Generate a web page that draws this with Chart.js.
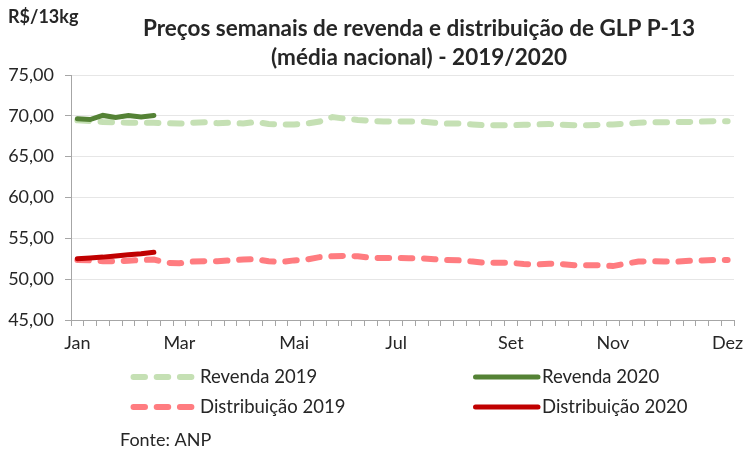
<!DOCTYPE html>
<html lang="pt-BR">
<head>
<meta charset="utf-8">
<title>Preços semanais de GLP P-13</title>
<script src="https://cdn.jsdelivr.net/npm/chart.js@4.4.1/dist/chart.umd.min.js"></script>
<style>
    html, body { margin: 0; padding: 0; background: #ffffff; }
    #wrap { width: 755px; height: 450px; }
</style>
</head>
<body>
<div id="wrap"><canvas id="glpChart" width="755" height="450"></canvas></div>
<script>
// Weekly GLP P-13 prices (R$/13kg), national average

const monthNames = ['Jan', 'Mar', 'Mai', 'Jul', 'Set', 'Nov', 'Dez'];
const monthWeeks = [0, 8, 17, 25, 34, 42, 51];
const weekCount = 52;

const revenda2019 = [
    69.45, 69.35, 69.25, 69.20, 69.15, 69.15, 69.15, 69.10, 69.05, 69.15,
    69.20, 69.10, 69.15, 69.05, 69.25, 69.00, 68.95, 68.95, 69.05, 69.30,
    69.85, 69.65, 69.50, 69.40, 69.30, 69.30, 69.30, 69.30, 69.15, 69.05,
    69.05, 68.95, 68.85, 68.85, 68.85, 68.90, 68.95, 69.00, 68.90, 68.85,
    68.85, 68.90, 68.95, 69.05, 69.15, 69.20, 69.20, 69.25, 69.25, 69.30,
    69.35, 69.35
];
const revenda2020 = [69.65, 69.55, 70.05, 69.80, 70.05, 69.85, 70.05];

const distribuicao2019 = [
    52.35, 52.30, 52.20, 52.20, 52.25, 52.35, 52.40, 52.00, 51.95, 52.15,
    52.20, 52.20, 52.30, 52.40, 52.45, 52.20, 52.10, 52.30, 52.40, 52.70,
    52.80, 52.85, 52.80, 52.60, 52.60, 52.60, 52.55, 52.55, 52.45, 52.35,
    52.30, 52.15, 52.00, 52.00, 52.00, 51.85, 51.80, 51.90, 51.85, 51.70,
    51.70, 51.70, 51.60, 51.90, 52.15, 52.20, 52.15, 52.15, 52.25, 52.30,
    52.35, 52.35
];
const distribuicao2020 = [52.50, 52.60, 52.70, 52.85, 53.00, 53.10, 53.30];

(function() {
    'use strict';

    const FONT = 'Lato, "Open Sans", sans-serif';
    const TEXT = '#262626';
    const AXIS = '#a6a6a6';
    const DASH = [11.5, 11.7];

    // category labels: month name on some weeks, blank on the rest
    const weekLabels = [];
    for (let i = 0; i < weekCount; i++) {
        const k = monthWeeks.indexOf(i);
        weekLabels.push(k >= 0 ? monthNames[k] : '');
    }

    // title, unit, legend and source drawn on the canvas
    const decorPlugin = {
        id: 'decor',
        afterDraw(chart) {
            const ctx = chart.ctx;
            ctx.save();
            ctx.fillStyle = TEXT;
            ctx.textBaseline = 'middle';

            ctx.textAlign = 'left';
            ctx.font = 'bold 18px ' + FONT;
            ctx.fillText('R$/13kg', 8, 17);

            ctx.textAlign = 'center';
            ctx.font = 'bold 22.5px ' + FONT;
            ctx.fillText('Preços semanais de revenda e distribuição de GLP P-13', 419, 29);
            ctx.fillText('(média nacional) - 2019/2020', 419, 58);

            // legend, two columns
            const cols = [131, 473];
            const rows = [377, 407];
            chart.data.datasets.forEach(function(ds, i) {
                const x = cols[i % 2];
                const y = rows[Math.floor(i / 2)];
                ctx.beginPath();
                ctx.strokeStyle = ds.borderColor;
                ctx.lineWidth = ds.borderWidth;
                ctx.lineCap = 'round';
                ctx.setLineDash(ds.borderDash || []);
                ctx.moveTo(x + 2.5, y);
                ctx.lineTo(x + 65, y);
                ctx.stroke();
                ctx.setLineDash([]);
                ctx.textAlign = 'left';
                ctx.font = '18.5px ' + FONT;
                ctx.fillText(ds.label, x + 69, y);
            });

            ctx.font = '18px ' + FONT;
            ctx.fillText('Fonte: ANP', 120, 440);
            ctx.restore();
        }
    };

    const ctx = document.getElementById('glpChart');

    new Chart(ctx, {
        type: 'line',
        data: {
            labels: weekLabels,
            datasets: [
                {
                    label: 'Revenda 2019',
                    data: revenda2019,
                    borderColor: '#c5e0b4',
                    borderWidth: 6,
                    borderDash: DASH,
                    borderCapStyle: 'round',
                    order: 2
                },
                {
                    label: 'Revenda 2020',
                    data: revenda2020,
                    borderColor: '#548235',
                    borderWidth: 5,
                    borderCapStyle: 'round',
                    order: 0
                },
                {
                    label: 'Distribuição 2019',
                    data: distribuicao2019,
                    borderColor: '#ff7c80',
                    borderWidth: 6,
                    borderDash: DASH,
                    borderCapStyle: 'round',
                    order: 2
                },
                {
                    label: 'Distribuição 2020',
                    data: distribuicao2020,
                    borderColor: '#c00000',
                    borderWidth: 5,
                    borderCapStyle: 'round',
                    order: 0
                }
            ]
        },
        options: {
            responsive: false,
            animation: false,
            elements: {
                point: { radius: 0, hoverRadius: 0 },
                line: { tension: 0, fill: false }
            },
            layout: {
                padding: { top: 75, right: 21, bottom: 0, left: 0 }
            },
            plugins: {
                legend: { display: false },
                title: { display: false },
                tooltip: { enabled: false }
            },
            scales: {
                x: {
                    offset: true,
                    grid: {
                        offset: true,
                        drawOnChartArea: false,
                        drawTicks: true,
                        tickLength: 6,
                        color: AXIS
                    },
                    border: { color: AXIS, width: 1 },
                    ticks: {
                        autoSkip: false,
                        maxRotation: 0,
                        padding: 6,
                        color: TEXT,
                        font: { family: FONT, size: 18 }
                    },
                    afterFit: function(scale) { scale.height = 130; }
                },
                y: {
                    min: 45,
                    max: 75,
                    grid: {
                        color: '#e6e6e6',
                        tickColor: AXIS,
                        tickLength: 6
                    },
                    border: { color: AXIS, width: 1 },
                    ticks: {
                        stepSize: 5,
                        padding: 11,
                        color: TEXT,
                        font: { family: FONT, size: 18 },
                        callback: function(v) { return v.toFixed(2).replace('.', ','); }
                    },
                    afterFit: function(scale) { scale.width = 71; }
                }
            }
        },
        plugins: [decorPlugin]
    });
})();
</script>
</body>
</html>
